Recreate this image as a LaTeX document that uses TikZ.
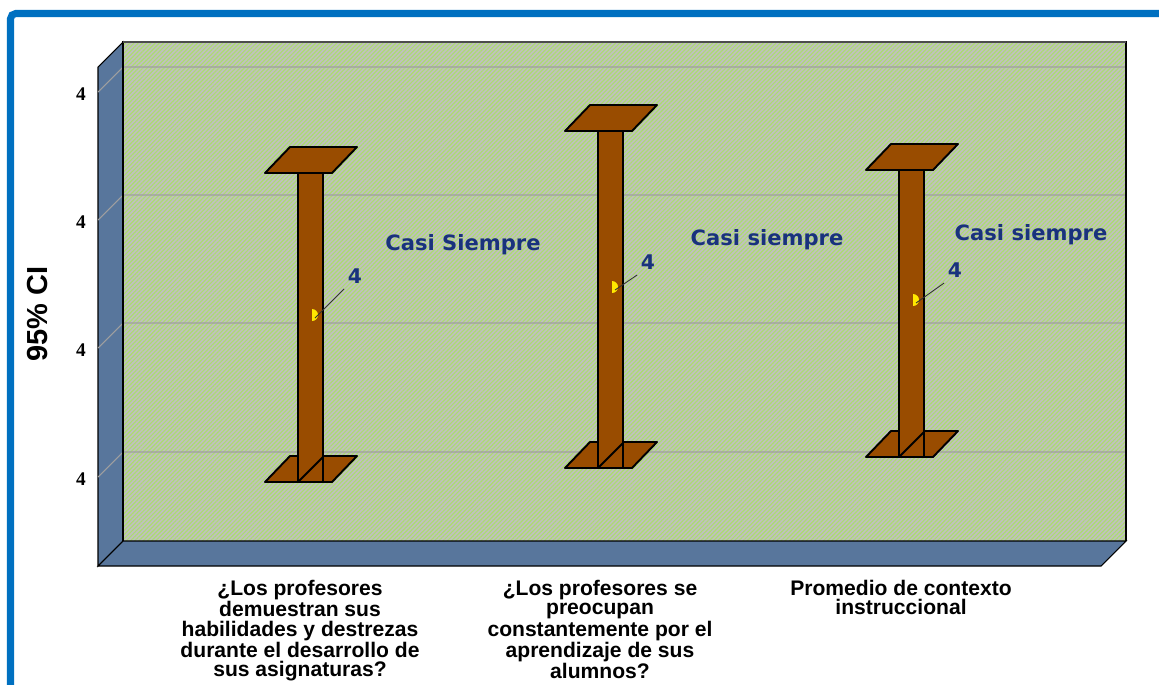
\documentclass[tikz,border=0pt]{standalone}
\usepackage{fontspec}
\setmainfont{Liberation Sans}
\newfontfamily\tickfont{Liberation Serif}
\newfontfamily\valfont{DejaVu Sans}
\usepackage{tikz}
\usetikzlibrary{positioning,patterns.meta}
\definecolor{frameblue}{RGB}{0,112,192}
\definecolor{wallgray}{RGB}{192,192,192}
\definecolor{stripegreen}{RGB}{172,220,112}
\definecolor{sideblue}{RGB}{88,118,156}
\definecolor{barbrown}{RGB}{153,76,0}
\definecolor{textblue}{RGB}{25,50,125}
\definecolor{meanyellow}{RGB}{255,232,0}
\tikzset{
  wall/.style={fill=wallgray,draw=black,line width=0.6pt},
  side/.style={fill=sideblue,draw=black,line width=0.6pt},
  gridline/.style={draw=gray!75,line width=0.6pt},
  barface/.style={fill=barbrown,draw=black,line width=1.1pt,line join=round},
  ticklab/.style={font=\tickfont\bfseries\fontsize{11}{13}\selectfont},
  catlab/.style={font=\bfseries\fontsize{12}{10.9}\selectfont,align=center,anchor=north},
  casi/.style={font=\valfont\bfseries\fontsize{12}{14}\selectfont,text=textblue},
  val/.style={font=\valfont\bfseries\fontsize{11.5}{13}\selectfont,text=textblue,inner sep=1pt},
  leader/.style={draw=black!80,line width=0.5pt}
}

\begin{document}
\begin{tikzpicture}[x=0.02cm,y=-0.02cm]
  \useasboundingbox (0,0) rectangle (1159,684);
  % frame (cut at right and bottom)
  \draw[frameblue,line width=4pt,rounded corners=3pt] (10.5,720) -- (10.5,13.5) -- (1200,13.5);

  % back wall with hatching
  \fill[wallgray] (123,42) rectangle (1126,541);
  \fill[pattern={Lines[angle=45,distance=1.7pt,line width=0.65pt]},pattern color=stripegreen]
    (123,42) rectangle (1126,541);
  % left wall and floor
  \draw[side] (98,67) -- (123,42) -- (123,541) -- (98,566) -- cycle;
  \draw[side] (123,541) -- (1126,541) -- (1101,566) -- (98,566) -- cycle;
  \foreach \y [count=\i] in {67,195,323,452} {
    \draw[gridline] (98,\y+25) -- (123,\y) -- (1126,\y);
    \node[ticklab] (tick\i) at (81,\y+27) {4};
  }
  \draw[black,line width=0.6pt] (123,541) -- (123,42) -- (1126,42) -- (1126,541);
  \draw[black!70,line width=0.8pt] (123,42) -- (1126,42);

  \node[rotate=90,font=\bfseries\fontsize{16.5}{18}\selectfont] (ylab) at (38,314) {95\% CI};

  % error bars: x of stem, top, bottom, mean, value label
  \foreach \sx/\yt/\yb/\ym/\lx/\ly [count=\n] in
      {298/173/482/315/355/276, 598/131/468/287/648/262, 899/170/457/300/955/270} {
    \draw[barface] (\sx-33,\yb) -- (\sx+34,\yb) -- (\sx+59,\yb-26) -- (\sx-8,\yb-26) -- cycle;
    \draw[barface] (\sx,\yt) rectangle (\sx+25,\yb);
    \draw[black,line width=1.1pt] (\sx,\yb) -- (\sx+25,\yb-25);
    \draw[barface] (\sx-33,\yt) -- (\sx+34,\yt) -- (\sx+59,\yt-26) -- (\sx-8,\yt-26) -- cycle;
    \fill[meanyellow] (\sx+14,\ym+6) arc[start angle=90,end angle=-90,radius=6];
    \coordinate (mean\n) at (\sx+17,\ym+3);
    \node[val] (val\n) at (\lx,\ly) {4};
    \draw[leader] (mean\n) -- ([xshift=-1pt,yshift=-2pt]val\n.south west);
  }

  \node[casi] (casi1) at (463,245) {Casi Siempre};
  \node[casi] (casi2) at (767,240) {Casi siempre};
  \node[casi] (casi3) at (1031,235) {Casi siempre};

  \node[catlab] (cat1) at (300,574) {¿Los profesores\\demuestran sus\\habilidades y destrezas\\durante el desarrollo de\\sus asignaturas?};
  \node[catlab] (cat2) at (600,574) {¿Los profesores se\\preocupan\\constantemente por el\\aprendizaje de sus\\alumnos?};
  \node[catlab] (cat3) at (901,574) {Promedio de contexto\\instruccional};
\end{tikzpicture}
\end{document}
